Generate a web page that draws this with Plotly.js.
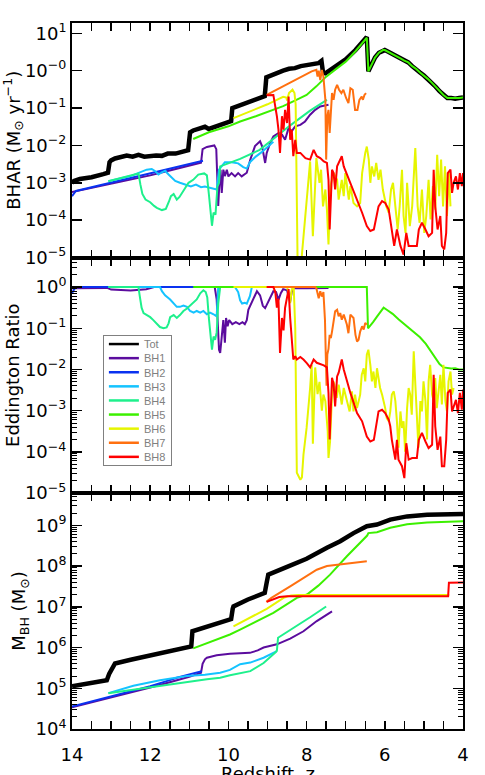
<!DOCTYPE html>
<html>
<head>
<meta charset="utf-8">
<script src="https://cdn.plot.ly/plotly-3.0.1.min.js"></script>
<style>
html,body{margin:0;padding:0;background:#fff;}
#chart{width:485px;height:775px;}
</style>
</head>
<body>
<div id="chart"></div>
<script>
// ---------- series names / colours ----------
const names = ["Tot","BH1","BH2","BH3","BH4","BH5","BH6","BH7","BH8"];
const colors = ["#000000","#5b0c9e","#0a32f0","#14c3ff","#1ef08c","#3cf000","#e6f500","#ff7010","#ff0000"];

// ---------- Panel 1 : BHAR (Msun/yr) ----------
const bharZ_Tot = [14.00,13.95,13.80,13.50,13.20,13.08,13.04,13.00,12.90,12.75,12.60,12.45,12.30,12.15,12.00,11.85,11.70,11.55,11.35,11.15,11.03,10.98,10.90,10.75,10.60,10.50,10.40,10.20,10.00,9.93,9.90,9.70,9.50,9.30,9.07,9.03,8.90,8.75,8.60,8.45,8.30,8.15,8.00,7.85,7.70,7.62,7.58,7.52,7.25,7.00,6.75,6.50,6.46,6.42,6.36,6.25,6.15,6.05,6.00,5.90,5.80,5.70,5.60,5.50,5.40,5.30,5.20,5.10,5.00,4.90,4.80,4.70,4.60,4.50,4.40,4.30,4.20,4.10,4.00];
const bharV_Tot = [1.0e-3,1.12e-3,1.26e-3,1.41e-3,1.70e-3,1.86e-3,3.55e-3,3.98e-3,4.47e-3,5.01e-3,5.37e-3,5.01e-3,5.62e-3,5.01e-3,5.25e-3,5.37e-3,5.25e-3,6.03e-3,6.03e-3,6.61e-3,7.41e-3,2.24e-2,2.51e-2,2.82e-2,3.16e-2,2.75e-2,3.02e-2,3.55e-2,4.17e-2,4.47e-2,0.100,0.120,0.141,0.166,0.209,0.661,0.759,0.891,1.00,1.12,1.17,1.32,1.41,1.51,1.58,1.82,0.891,0.851,1.32,2.00,3.55,6.76,7.94,0.955,1.26,2.24,3.02,3.55,3.55,3.16,2.82,2.51,2.14,1.86,1.66,1.32,1.12,0.891,0.741,0.603,0.479,0.372,0.282,0.224,0.186,0.186,0.178,0.186,0.191];

const bharZ_BH1 = [14.00,13.50,13.00,12.50,12.00,11.50,11.00,10.70,10.66,10.55,10.36,10.31,10.28,10.26,10.23,10.20,10.17,10.13,10.09,10.04,10.00,9.92,9.83,9.75,9.66,9.58,9.53,9.44,9.32,9.19,9.14,9.06,9.02,8.93,8.85,8.72,8.63,8.55,8.46,8.38,8.29,8.16,8.04,7.91,7.78,7.65,7.52,7.44];
const bharV_BH1 = [5.62e-4,7.24e-4,9.33e-4,1.20e-3,1.58e-3,2.14e-3,2.82e-3,3.47e-3,7.94e-3,9.12e-3,1.0e-2,7.94e-3,1.0e-3,2.40e-4,1.0e-3,2.24e-3,5.37e-4,2.24e-3,1.51e-3,2.24e-3,1.48e-3,1.82e-3,1.48e-3,1.82e-3,1.48e-3,1.66e-3,1.86e-3,4.17e-3,9.55e-3,1.29e-2,9.55e-3,3.39e-3,6.31e-3,1.17e-2,1.74e-2,2.14e-2,1.95e-2,1.41e-2,2.95e-2,2.40e-2,3.24e-2,3.55e-2,4.37e-2,6.61e-2,8.91e-2,0.110,0.115,0.123];

const bharZ_BH2 = [14.00,13.95,13.90,12.50,11.50,10.65];
const bharV_BH2 = [4.37e-4,5.25e-4,6.03e-4,1.35e-3,2.40e-3,3.89e-3];

const bharZ_BH3 = [13.07,12.50,12.09,11.96,11.87,11.79,11.70,11.62,11.53,11.45,11.36,11.24,11.10,10.96,10.83,10.70,10.60,10.45,10.30,10.24,10.17,10.09,9.92,9.75,9.62,9.53,9.45,9.30,9.15,9.00,8.85];
const bharV_BH3 = [1.10e-3,1.51e-3,2.24e-3,2.34e-3,2.04e-3,1.66e-3,1.91e-3,2.09e-3,1.66e-3,1.35e-3,1.12e-3,1.00e-3,8.91e-4,7.94e-4,8.91e-4,7.59e-4,7.94e-4,7.24e-4,6.61e-4,2.24e-3,2.75e-3,3.55e-3,3.55e-3,3.31e-3,2.63e-3,2.40e-3,3.55e-3,5.01e-3,6.61e-3,8.91e-3,1.26e-2];

const bharZ_BH4 = [13.07,12.30,12.25,12.20,12.12,12.00,11.90,11.83,11.70,11.60,11.52,11.47,11.40,11.32,11.25,11.15,11.02,10.90,10.77,10.62,10.55,10.50,10.45,10.42,10.38,10.33,10.28,10.24,10.21,9.70,9.20,8.85,8.40,7.91,7.48];
const bharV_BH4 = [1.10e-3,1.78e-3,8.91e-4,5.01e-4,3.55e-4,3.02e-4,2.40e-4,2.14e-4,1.86e-4,2.00e-4,3.16e-4,4.37e-4,5.01e-4,3.55e-4,4.17e-4,6.31e-4,1.00e-3,1.20e-3,1.66e-3,1.78e-3,1.58e-3,5.01e-4,1.58e-4,7.08e-5,1.58e-4,1.41e-4,7.94e-4,1.00e-3,2.75e-3,4.37e-3,7.59e-3,1.51e-2,3.55e-2,8.51e-2,0.166];

const bharZ_BH5 = [10.90,10.50,10.00,9.70,9.30,9.00,8.60,8.30,8.00,7.75,7.50,7.25,7.00,6.75,6.50,6.46,6.42,6.36,6.25,6.15,6.05,6.00,5.90,5.80,5.70,5.60,5.50,5.40,5.30,5.20,5.10,5.00,4.90,4.80,4.70,4.60,4.50,4.40,4.30,4.20,4.10,4.00];
const bharV_BH5 = [1.48e-2,2.24e-2,3.24e-2,4.37e-2,6.03e-2,7.94e-2,0.112,0.158,0.224,0.380,0.692,1.10,1.74,3.31,6.61,7.59,0.955,1.26,2.24,3.02,3.55,3.55,3.16,2.82,2.51,2.14,1.86,1.66,1.32,1.12,0.891,0.741,0.603,0.479,0.372,0.282,0.224,0.186,0.186,0.178,0.186,0.191];

const bharZ_BH6 = [9.87,9.50,9.00,8.60,8.52,8.50,8.45,8.36,8.31,8.28,8.25,8.22,8.15,8.12,7.91,7.84,7.75,7.67,7.63,7.58,7.52,7.48,7.44,7.39,7.31,7.22,7.18,7.10,7.05,7.01,6.92,6.88,6.80,6.71,6.63,6.58,6.50,6.46,6.41,6.37,6.33,6.27,6.22,6.16,6.11,6.05,5.96,5.90,5.84,5.79,5.73,5.67,5.62,5.56,5.52,5.47,5.43,5.36,5.30,5.22,5.16,5.11,5.05,4.99,4.94,4.88,4.83,4.77,4.71,4.66,4.61,4.56,4.51,4.46,4.41,4.36,4.32];
const bharV_BH6 = [5.37e-2,7.59e-2,0.126,0.200,0.191,0.158,0.251,0.309,0.251,0.126,1.0e-3,1e-6,1e-6,1.20e-5,3.72e-3,3.72e-5,4.57e-3,1.0e-3,2.24e-3,2.34e-4,6.61e-4,1.91e-4,2.24e-5,8.13e-4,1.82e-3,1.20e-3,3.55e-4,1.20e-3,4.37e-4,1.82e-3,3.55e-4,8.13e-4,2.88e-4,2.34e-4,2.88e-4,1.82e-3,6.31e-3,9.33e-3,4.17e-3,1.0e-3,2.75e-3,1.48e-3,3.39e-3,1.20e-3,2.24e-3,6.61e-4,2.34e-4,1.58e-4,6.61e-4,1.0e-3,2.34e-4,5.62e-5,2.34e-4,2.24e-3,1.29e-4,4.57e-5,1.0e-3,6.92e-5,2.34e-4,8.51e-3,2.34e-4,8.51e-5,6.61e-4,4.57e-5,1.29e-4,1.20e-3,1.05e-4,8.13e-4,1.91e-4,5.62e-3,4.37e-4,4.17e-3,2.34e-4,2.75e-3,1.29e-4,1.82e-3,2.34e-4];

const bharZ_BH7 = [9.02,7.87,7.75,7.72,7.69,7.65,7.61,7.57,7.52,7.50,7.47,7.44,7.41,7.38,7.35,7.31,7.27,7.22,7.17,7.11,7.06,6.99,6.93,6.88,6.82,6.76,6.70,6.65,6.59,6.56,6.52,6.48];
const bharV_BH7 = [0.224,0.955,1.05,0.692,1.00,0.562,1.05,0.692,0.166,4.17e-3,6.03e-2,8.91e-2,2.14e-2,8.91e-2,0.251,0.166,0.309,0.417,0.309,0.251,0.309,0.186,0.135,0.339,0.309,8.91e-2,8.91e-2,0.166,0.204,0.166,0.224,0.251];

const bharZ_BH8 = [9.02,8.85,8.76,8.72,8.68,8.63,8.59,8.55,8.50,8.46,8.42,8.38,8.34,8.29,8.25,8.16,8.03,7.91,7.82,7.74,7.65,7.56,7.48,7.44,7.41,7.35,7.31,7.27,7.22,7.18,7.10,7.05,6.88,6.71,6.58,6.46,6.37,6.28,6.16,6.07,5.99,5.90,5.86,5.82,5.76,5.69,5.60,5.52,5.45,5.39,5.30,5.18,5.13,5.05,4.96,4.88,4.79,4.75,4.71,4.65,4.58,4.54,4.48,4.43,4.39,4.32,4.28,4.24,4.18,4.13,4.08,4.03,4.00];
const bharV_BH8 = [0.219,0.224,6.03e-2,2.63e-2,6.31e-3,6.03e-2,2.63e-2,8.91e-2,3.98e-2,0.204,1.41e-2,2.63e-2,5.13e-3,1.41e-2,6.31e-3,6.31e-3,4.57e-3,4.17e-3,7.59e-3,5.13e-3,4.57e-3,3.72e-3,3.39e-3,1.20e-3,5.62e-5,2.24e-3,1.82e-3,6.61e-4,2.75e-3,3.39e-3,5.13e-3,2.75e-3,1.00e-3,3.55e-4,1.58e-4,6.92e-5,5.13e-5,5.62e-5,2.34e-4,3.24e-4,2.88e-4,1.91e-4,1.05e-4,4.57e-5,2.04e-5,5.62e-5,2.04e-5,1.20e-5,4.57e-5,2.04e-5,2.04e-5,2.04e-5,5.62e-5,8.51e-5,5.62e-5,3.72e-5,4.57e-5,2.24e-3,2.34e-4,5.62e-5,1.29e-4,2.04e-5,1.66e-5,4.57e-5,1.82e-3,2.24e-3,5.37e-4,1.00e-3,1.48e-3,6.61e-4,1.82e-3,8.13e-4,1.82e-3];

// ---------- Panel 2 : Eddington ratio ----------
const eddZ_BH1 = [14.00,13.10,13.00,12.50,12.10,11.90,10.72,10.35,10.30,10.27,10.24,10.21,10.17,10.13,10.09,10.06,10.02,9.98,9.90,9.81,9.72,9.64,9.58,9.53,9.49,9.40,9.32,9.27,9.19,9.12,9.06,9.00,8.93,8.85,8.78,8.72,8.66,8.60,8.50,8.42,8.38,8.33,8.00,7.70,7.44];
const eddV_BH1 = [0.933,0.955,0.871,0.832,0.891,1,1,1,0.501,0.100,3.02e-2,2.51e-2,6.31e-2,0.158,4.47e-2,0.178,0.112,0.158,0.126,0.141,0.126,0.141,0.126,0.158,0.282,0.447,0.631,0.794,0.631,0.355,0.309,0.398,0.537,0.794,0.759,0.490,0.708,0.891,0.832,0.447,0.759,0.955,0.933,0.955,0.955];

const eddZ_BH2 = [14.00,13.93,13.85,10.65];
const eddV_BH2 = [0.708,0.933,1,1];

const eddZ_BH3 = [13.07,11.75,11.70,11.62,11.49,11.40,11.32,11.24,11.15,11.06,10.98,10.89,10.81,10.72,10.64,10.55,10.47,10.38,10.30,10.26,9.83,9.75,9.70,9.65,9.58,9.53,9.45,9.40,8.85];
const eddV_BH3 = [1,1,0.794,0.631,0.501,0.398,0.331,0.331,0.355,0.331,0.263,0.240,0.263,0.240,0.263,0.219,0.240,0.219,0.195,1,1,0.759,0.479,0.398,0.417,0.398,0.603,1,1];

const eddZ_BH4 = [13.07,12.30,12.27,12.22,12.17,12.09,12.00,11.92,11.83,11.75,11.66,11.58,11.53,11.49,11.40,11.32,11.24,11.15,11.06,10.98,10.90,10.81,10.72,10.64,10.58,10.54,10.50,10.45,10.42,10.38,10.34,10.30,10.26,10.21,7.48];
const eddV_BH4 = [1,1,0.631,0.316,0.234,0.209,0.186,0.158,0.126,0.107,0.100,0.105,0.132,0.186,0.209,0.178,0.209,0.263,0.302,0.355,0.417,0.501,0.708,0.832,0.759,0.562,0.178,5.01e-2,3.02e-2,6.31e-2,5.25e-2,7.94e-2,0.398,1,1];

const eddZ_BH5 = [10.90,6.46,6.43,6.38,6.30,6.20,6.10,6.03,5.95,5.80,5.65,5.50,5.40,5.25,5.10,4.95,4.80,4.70,4.60,4.50,4.40,4.30,4.20,4.10,4.00];
const eddV_BH5 = [1,1,0.100,0.112,0.141,0.191,0.263,0.316,0.282,0.224,0.166,0.126,0.107,8.32e-2,6.03e-2,4.17e-2,2.63e-2,1.91e-2,1.35e-2,1.12e-2,1.07e-2,1.05e-2,1.07e-2,1.00e-2,1.00e-2];

const eddZ_BH6 = [9.87,8.50,8.46,8.42,8.38,8.33,8.29,8.25,8.16,8.12,8.08,8.00,7.91,7.87,7.84,7.78,7.72,7.67,7.61,7.57,7.52,7.46,7.44,7.40,7.35,7.31,7.27,7.23,7.18,7.14,7.10,7.05,6.97,6.90,6.84,6.80,6.76,6.71,6.63,6.59,6.54,6.50,6.46,6.42,6.37,6.33,6.29,6.24,6.20,6.16,6.12,6.07,6.03,5.99,5.95,5.90,5.86,5.82,5.77,5.73,5.69,5.65,5.60,5.56,5.52,5.48,5.43,5.39,5.35,5.31,5.26,5.22,5.18,5.14,5.09,5.05,5.01,4.96,4.92,4.88,4.84,4.79,4.75,4.71,4.67,4.62,4.58,4.54,4.50,4.45,4.41,4.37,4.32,4.28,4.24];
const eddV_BH6 = [1,1,0.708,0.407,0.891,1,0.100,3.09e-5,2.09e-5,2.40e-5,8.51e-5,3.80e-4,3.55e-3,1.29e-2,1.58e-4,1.12e-2,2.51e-3,5.01e-3,1.0e-3,2.45e-3,1.70e-3,3.16e-4,7.08e-5,1.78e-4,2.45e-3,5.13e-3,3.55e-3,2.04e-3,4.27e-3,2.45e-3,1.41e-3,3.55e-3,1.70e-3,9.55e-4,2.95e-3,9.55e-4,2.45e-3,1.15e-3,2.45e-3,7.41e-3,1.07e-2,5.13e-3,2.29e-2,3.02e-2,1.29e-2,5.13e-3,8.91e-3,3.55e-3,1.07e-2,6.17e-3,3.55e-3,2.45e-3,1.70e-3,1.15e-3,6.61e-4,5.50e-4,9.55e-4,2.45e-3,2.95e-3,1.70e-3,5.50e-4,1.26e-4,9.55e-4,3.80e-4,5.50e-4,1.0e-4,1.15e-3,3.55e-3,2.45e-3,7.94e-4,2.75e-2,5.13e-3,1.15e-3,1.26e-4,1.70e-3,9.55e-4,5.13e-3,1.70e-3,2.0e-4,5.13e-3,1.29e-2,2.45e-3,1.70e-3,6.17e-3,1.15e-3,4.27e-3,7.41e-3,1.41e-3,1.29e-2,1.70e-3,9.55e-4,5.13e-3,8.91e-3,2.45e-3,3.55e-3];

const eddZ_BH7 = [9.02,7.78,7.75,7.72,7.69,7.65,7.61,7.57,7.53,7.51,7.49,7.47,7.44,7.41,7.38,7.35,7.31,7.27,7.22,7.18,7.14,7.10,7.05,6.97,6.93,6.88,6.80,6.75,6.71,6.67,6.63,6.58,6.54,6.50,6.46];
const eddV_BH7 = [1,1,0.933,0.708,0.537,0.794,0.589,0.759,0.158,2.29e-2,4.0e-3,2.29e-2,3.16e-2,6.92e-2,5.75e-2,8.32e-2,0.148,0.257,0.282,0.195,0.234,0.162,0.214,0.123,7.59e-2,0.214,0.178,6.92e-2,4.79e-2,5.25e-2,8.32e-2,0.112,9.33e-2,0.135,0.123];

const eddZ_BH8 = [9.02,8.85,8.80,8.76,8.72,8.68,8.63,8.59,8.55,8.50,8.46,8.42,8.38,8.34,8.29,8.25,8.16,8.08,7.99,7.91,7.82,7.74,7.56,7.48,7.44,7.41,7.35,7.31,7.27,7.22,7.18,7.10,7.05,6.88,6.71,6.58,6.46,6.37,6.28,6.16,6.07,5.99,5.90,5.86,5.82,5.77,5.73,5.69,5.65,5.56,5.50,5.45,5.39,5.30,5.18,5.13,5.05,4.96,4.88,4.79,4.75,4.71,4.65,4.58,4.54,4.48,4.43,4.39,4.32,4.28,4.18,4.13,4.08,4.03,4.00];
const eddV_BH8 = [1,1,0.759,0.316,0.525,2.51e-2,0.178,8.91e-2,0.316,0.525,0.891,0.178,5.62e-2,1.74e-2,2.09e-2,1.74e-2,2.00e-2,1.74e-2,1.41e-2,1.12e-2,1.74e-2,1.45e-2,1.26e-2,1.12e-2,2.69e-3,2.00e-4,6.31e-3,4.47e-3,1.26e-3,6.76e-3,8.32e-3,1.74e-2,1.00e-2,2.69e-3,8.71e-4,5.50e-4,2.34e-4,1.78e-4,1.95e-4,9.55e-4,1.05e-3,8.71e-4,6.03e-4,4.17e-4,1.95e-4,9.33e-5,6.46e-5,1.95e-4,6.46e-5,4.47e-5,2.29e-5,1.62e-4,6.46e-5,7.08e-5,7.08e-5,1.95e-4,2.88e-4,1.78e-4,1.23e-4,1.48e-4,7.41e-3,4.17e-4,1.12e-4,2.34e-4,4.47e-5,4.47e-5,1.95e-4,2.69e-3,3.24e-3,9.55e-4,1.82e-3,8.71e-4,2.69e-3,1.05e-3,3.24e-3];

// ---------- Panel 3 : M_BH (Msun) ----------
const massZ_Tot = [14.00,13.11,13.05,12.95,12.90,12.50,12.00,11.50,10.95,10.92,10.50,9.93,9.89,9.87,9.50,9.07,9.02,8.98,8.50,8.00,7.48,7.14,6.80,6.46,6.20,5.86,5.43,4.92,4.00];
const massV_Tot = [1.12e5,1.58e5,2.24e5,3.55e5,4.07e5,5.01e5,6.31e5,7.94e5,1.07e6,2.51e6,3.31e6,5.01e6,8.91e6,1.02e7,1.51e7,2.19e7,3.98e7,6.17e7,9.55e7,1.51e8,2.82e8,4.07e8,6.46e8,9.55e8,1.05e9,1.38e9,1.66e9,1.82e9,1.91e9];

const massZ_BH1 = [14.00,13.00,12.00,11.50,11.00,10.70,10.66,10.60,10.55,10.30,9.96,9.45,9.25,9.10,8.76,8.42,8.08,7.74,7.35];
const massV_BH1 = [3.39e4,5.89e4,1.05e5,1.41e5,1.91e5,2.40e5,3.98e5,5.13e5,5.62e5,6.46e5,7.08e5,7.41e5,8.51e5,1.00e6,1.20e6,1.66e6,2.51e6,4.47e6,7.76e6];

const massZ_BH2 = [14.00,13.50,13.03,12.50,12.00,11.60,11.32,11.00,10.68];
const massV_BH2 = [3.55e4,4.68e4,6.31e4,8.32e4,1.12e5,1.48e5,1.82e5,2.19e5,2.63e5];

const massZ_BH3 = [13.07,12.43,11.75,11.06,10.60,10.21,9.96,9.70,9.44,9.10,8.76];
const massV_BH3 = [7.59e4,1.15e5,1.58e5,2.00e5,2.14e5,2.40e5,2.82e5,3.89e5,4.27e5,5.62e5,8.13e5];

const massZ_BH4 = [13.07,12.43,11.75,11.06,10.55,10.21,9.96,9.44,9.10,8.80,8.76,8.73,8.50,8.25,7.90,7.50];
const massV_BH4 = [7.59e4,9.33e4,1.17e5,1.41e5,1.66e5,1.82e5,2.09e5,2.63e5,4.17e5,7.59e5,8.32e5,1.74e6,2.40e6,3.31e6,5.62e6,1.02e7];

const massZ_BH5 = [10.90,10.50,9.96,9.70,9.10,8.85,8.25,7.99,7.70,7.40,6.97,6.54,6.45,6.42,6.20,5.86,5.43,4.92,4.00];
const massV_BH5 = [9.55e5,1.32e6,2.09e6,2.75e6,5.37e6,7.08e6,1.66e7,2.00e7,3.31e7,6.17e7,1.74e8,4.47e8,5.62e8,6.46e8,6.76e8,8.71e8,1.07e9,1.17e9,1.26e9];

const massZ_BH6 = [9.87,9.50,9.02,8.59,8.40,8.20,4.35];
const massV_BH6 = [3.31e6,5.01e6,8.91e6,1.66e7,1.91e7,1.95e7,1.95e7];

const massZ_BH7 = [9.03,8.90,8.42,7.99,7.74,7.48,7.14,6.80,6.46];
const massV_BH7 = [1.32e7,1.66e7,3.16e7,5.62e7,8.13e7,1.0e8,1.10e8,1.20e8,1.32e8];

const massZ_BH8 = [9.02,8.95,8.85,8.70,8.50,4.38,4.36,4.00];
const massV_BH8 = [1.32e7,1.41e7,1.58e7,1.74e7,1.82e7,1.82e7,3.89e7,3.98e7];

// ---------- tick labels ----------
const bharTickVals = [1e-5,1e-4,1e-3,1e-2,1e-1,1e0,1e1];
const bharTickText = ["10<sup>\u22125</sup>","10<sup>\u22124</sup>","10<sup>\u22123</sup>","10<sup>\u22122</sup>","10<sup>\u22121</sup>","10<sup>\u22120</sup>","10<sup>1</sup>"];
const eddTickVals = [1e-5,1e-4,1e-3,1e-2,1e-1,1e0];
const eddTickText = ["10<sup>\u22125</sup>","10<sup>\u22124</sup>","10<sup>\u22123</sup>","10<sup>\u22122</sup>","10<sup>\u22121</sup>","10<sup>0</sup>"];
const massTickVals = [1e4,1e5,1e6,1e7,1e8,1e9];
const massTickText = ["10<sup>4</sup>","10<sup>5</sup>","10<sup>6</sup>","10<sup>7</sup>","10<sup>8</sup>","10<sup>9</sup>"];
const zTickVals = [14,12,10,8,6,4];
const zTickText = ["14","12","10","8","6","4"];

// minor tick positions (2..9 x 10^n) for the log axes
function logMinorTicks(loExp, hiExp) {
  const v = [];
  for (let e = loExp; e <= hiExp; e++) for (let m = 2; m <= 9; m++) v.push(m * Math.pow(10, e));
  return v;
}

// ---------- build traces ----------
const bhar = {
  Tot:[bharZ_Tot,bharV_Tot], BH1:[bharZ_BH1,bharV_BH1], BH2:[bharZ_BH2,bharV_BH2], BH3:[bharZ_BH3,bharV_BH3],
  BH4:[bharZ_BH4,bharV_BH4], BH5:[bharZ_BH5,bharV_BH5], BH6:[bharZ_BH6,bharV_BH6], BH7:[bharZ_BH7,bharV_BH7], BH8:[bharZ_BH8,bharV_BH8]
};
const edd = {
  BH1:[eddZ_BH1,eddV_BH1], BH2:[eddZ_BH2,eddV_BH2], BH3:[eddZ_BH3,eddV_BH3], BH4:[eddZ_BH4,eddV_BH4],
  BH5:[eddZ_BH5,eddV_BH5], BH6:[eddZ_BH6,eddV_BH6], BH7:[eddZ_BH7,eddV_BH7], BH8:[eddZ_BH8,eddV_BH8]
};
const mass = {
  Tot:[massZ_Tot,massV_Tot], BH1:[massZ_BH1,massV_BH1], BH2:[massZ_BH2,massV_BH2], BH3:[massZ_BH3,massV_BH3],
  BH4:[massZ_BH4,massV_BH4], BH5:[massZ_BH5,massV_BH5], BH6:[massZ_BH6,massV_BH6], BH7:[massZ_BH7,massV_BH7], BH8:[massZ_BH8,massV_BH8]
};

function mk(set, name, xa, ya, legend) {
  const i = names.indexOf(name);
  return {
    type:'scatter', mode:'lines', name:name, legendgroup:name,
    x:set[name][0], y:set[name][1], xaxis:xa, yaxis:ya,
    line:{color:colors[i], width: name==='Tot' ? 4.5 : 2},
    showlegend: legend, hoverinfo:'skip'
  };
}
const traces = [];
names.forEach(n => traces.push(mk(bhar, n, 'x', 'y', n==='Tot')));
names.slice(1).forEach(n => traces.push(mk(edd, n, 'x2', 'y2', true)));
names.forEach(n => traces.push(mk(mass, n, 'x3', 'y3', false)));

// ---------- axes ----------
const fontFam = 'DejaVu Sans';
function xAxis(anchor, labels) {
  return {
    anchor:anchor, range:[14,4], showline:true, linewidth:2, linecolor:'#000', mirror:'allticks',
    ticks:'inside', ticklen:8, tickwidth:1.5, tickcolor:'#000',
    tickmode:'array', tickvals:zTickVals, ticktext:zTickText, showticklabels:labels,
    ticklabelstandoff: 8,
    minor:{dtick:0.5, tick0:4, ticks:'inside', ticklen:8, tickwidth:1.5, tickcolor:'#000', showgrid:false},
    showgrid:false, zeroline:false, tickfont:{family:fontFam, size:18, color:'#000'}
  };
}
function yAxis(domain, range, tv, tt, minorVals, title) {
  const ax = {
    domain:domain, type:'log', range:range, showline:true, linewidth:2, linecolor:'#000', mirror:'allticks',
    ticks:'inside', ticklen:10, tickwidth:1.5, tickcolor:'#000',
    tickmode:'array', tickvals:tv, ticktext:tt, showgrid:false, zeroline:false,
    tickfont:{family:fontFam, size:18, color:'#000'},
    title:{text:title, font:{family:fontFam, size:18, color:'#000'}}
  };
  if (minorVals) ax.minor = {tickmode:'array', tickvals:minorVals, ticks:'inside', ticklen:5, tickwidth:1, tickcolor:'#000', showgrid:false};
  return ax;
}

const layout = {
  width:485, height:775,
  margin:{l:72, r:22, t:23, b:45.5, autoexpand:false},
  paper_bgcolor:'#fff', plot_bgcolor:'#fff',
  font:{family:fontFam, size:18, color:'#000'},
  showlegend:true,
  xaxis: xAxis('y', false),
  xaxis2: xAxis('y2', false),
  xaxis3: xAxis('y3', true),
  yaxis: yAxis([0.6678,1], [-5,1.275], bharTickVals, bharTickText, null, 'BHAR (M<sub>\u2299</sub> yr<sup>\u22121</sup>)'),
  yaxis2: yAxis([0.3343,0.6678], [-5,0.718], eddTickVals, eddTickText, logMinorTicks(-6,0), 'Eddington Ratio'),
  yaxis3: yAxis([0,0.3343], [4,9.795], massTickVals, massTickText, logMinorTicks(3,9), 'M<sub>BH</sub> (M<sub>\u2299</sub>)'),
  // x-axis title sits low, partly cut by the page edge as in the original
  annotations:[{
    text:'Redshift, z', xref:'paper', yref:'paper', x:0.5, y:-0.0625,
    xanchor:'center', yanchor:'middle', showarrow:false,
    font:{family:fontFam, size:18, color:'#000'}
  }],
  legend:{
    x:0.079, y:0.558, xanchor:'left', yanchor:'top',
    bgcolor:'#fff', bordercolor:'#808080', borderwidth:1,
    font:{family:'Liberation Sans', size:11, color:'#808080'},
    tracegroupgap:0, itemclick:false, itemdoubleclick:false
  }
};

Plotly.newPlot('chart', traces, layout, {staticPlot:true, displayModeBar:false}).then(gd => {
  // compact legend rows like the original figure
  try {
    const items = gd.querySelectorAll('.legend .traces');
    const step = 14.1;
    items.forEach((g, i) => {
      const t = g.getAttribute('transform') || '';
      const m = t.match(/translate\(([-\d.]+)/);
      const x0 = m ? m[1] : '1';
      g.setAttribute('transform', 'translate(' + x0 + ',' + (9 + i*step) + ')');
      g.querySelectorAll('path.js-line').forEach(p => { p.style.strokeWidth = '2.5px'; });
    });
    const bg = gd.querySelector('.legend .bg');
    if (bg) bg.setAttribute('height', (items.length*step + 3).toFixed(1));
  } catch(e) {}
  // lift the lowest tick label of the two upper panels off the panel seam
  try {
    gd.querySelectorAll('g.ytick text, g.y2tick text').forEach(t => {
      const s = (t.textContent || '').replace(/\s/g,'');
      if (s === '10\u22125' || s === '10-5') {
        const tr = t.getAttribute('transform') || '';
        t.setAttribute('transform', (tr + ' translate(0,-10)').trim());
      }
    });
  } catch(e) {}
});
</script>
</body>
</html>
